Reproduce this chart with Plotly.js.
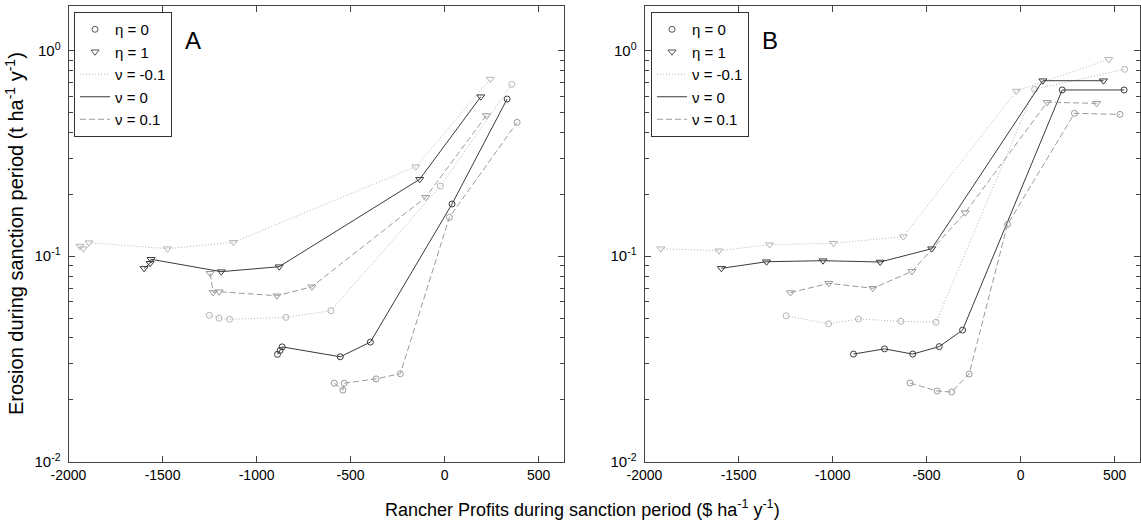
<!DOCTYPE html>
<html>
<head>
<meta charset="utf-8">
<script src="https://cdn.plot.ly/plotly-3.0.1.min.js"></script>
<style>html,body{margin:0;padding:0;background:#fff;}#chart{width:1141px;height:527px;}</style>
</head>
<body>
<div id="chart"></div>
<script>
// ---------- Data: Panel A ----------
const A_eta0_nuM01_x = [-1251, -1199, -1144, -844, -605, -23, 357];
const A_eta0_nuM01_y = [0.0516, 0.0499, 0.0493, 0.0504, 0.0543, 0.2195, 0.686];
const A_eta0_nu0_x   = [-889, -875, -864, -555, -395, 39, 332];
const A_eta0_nu0_y   = [0.0333, 0.0348, 0.0362, 0.0324, 0.0382, 0.1795, 0.582];
const A_eta0_nuP01_x = [-587, -541, -534, -365, -236, 25, 385];
const A_eta0_nuP01_y = [0.0241, 0.0223, 0.0241, 0.0253, 0.0268, 0.1546, 0.448];
const A_eta1_nuM01_x = [-1939, -1921, -1891, -1474, -1123, -154, 243];
const A_eta1_nuM01_y = [0.112, 0.1088, 0.1164, 0.1088, 0.1168, 0.2726, 0.728];
const A_eta1_nu0_x   = [-1598, -1566, -1561, -1188, -880, -133, 192];
const A_eta1_nu0_y   = [0.0873, 0.0924, 0.0966, 0.0841, 0.0889, 0.2367, 0.5973];
const A_eta1_nuP01_x = [-1247, -1231, -1199, -892, -706, -101, 222];
const A_eta1_nuP01_y = [0.0826, 0.0667, 0.0672, 0.0642, 0.0710, 0.1935, 0.484];

// ---------- Data: Panel B ----------
const B_eta0_nuM01_x = [-1247, -1021, -862, -637, -450, 74, 553];
const B_eta0_nuM01_y = [0.0513, 0.0469, 0.0495, 0.0482, 0.0477, 0.649, 0.812];
const B_eta0_nu0_x   = [-889, -724, -574, -433, -309, 221, 550];
const B_eta0_nu0_y   = [0.0334, 0.0354, 0.0334, 0.0363, 0.0437, 0.644, 0.644];
const B_eta0_nuP01_x = [-588, -444, -367, -274, -70, 286, 528];
const B_eta0_nuP01_y = [0.02415, 0.02208, 0.02184, 0.02672, 0.1429, 0.4958, 0.490];
const B_eta1_nuM01_x = [-1913, -1604, -1335, -995, -624, -23, 468];
const B_eta1_nuM01_y = [0.1088, 0.1063, 0.1138, 0.1156, 0.1245, 0.6367, 0.908];
const B_eta1_nu0_x   = [-1591, -1351, -1051, -747, -473, 118, 440];
const B_eta1_nu0_y   = [0.0873, 0.0940, 0.0951, 0.0937, 0.1088, 0.7145, 0.7145];
const B_eta1_nuP01_x = [-1224, -1020, -786, -578, -295, 141, 404];
const B_eta1_nuP01_y = [0.0665, 0.0738, 0.0698, 0.0844, 0.1628, 0.561, 0.5546];

// ---------- Labels ----------
const legendLabels = ['\u03B7 = 0', '\u03B7 = 1', '\u03BD = -0.1', '\u03BD = 0', '\u03BD = 0.1'];
const panelLabels = ['A', 'B'];
const xTickVals = [-2000, -1500, -1000, -500, 0, 500];
const yTickVals = [0.01, 0.1, 1];
const yTickText = ['10<sup>-2</sup>', '10<sup>-1</sup>', '10<sup>0</sup>'];
const yMinorVals = [0.02,0.03,0.04,0.05,0.06,0.07,0.08,0.09,0.2,0.3,0.4,0.5,0.6,0.7,0.8,0.9];

// ---------- Styles ----------
const FONT = 'Liberation Sans, Arial, sans-serif';
const styleNu = {
  m01: {color: '#b4b4b4', dash: '1px,2px'},
  z:   {color: '#3a3a3a', dash: 'solid'},
  p01: {color: '#9a9a9a', dash: '6px,3px'}
};
const symEta = {e0: 'circle-open', e1: 'triangle-down-open'};

function series(x, y, nu, eta, xa, ya) {
  const s = styleNu[nu];
  return {
    x: x, y: y, xaxis: xa, yaxis: ya, type: 'scatter', mode: 'lines+markers',
    showlegend: false, hoverinfo: 'x+y',
    line: {color: s.color, width: 1, dash: s.dash},
    marker: {symbol: symEta[eta], size: eta === 'e0' ? 6 : 7, color: s.color, line: {color: s.color, width: 1}}
  };
}

const traces = [
  series(A_eta0_nuM01_x, A_eta0_nuM01_y, 'm01', 'e0', 'x', 'y'),
  series(A_eta0_nu0_x,   A_eta0_nu0_y,   'z',   'e0', 'x', 'y'),
  series(A_eta0_nuP01_x, A_eta0_nuP01_y, 'p01', 'e0', 'x', 'y'),
  series(A_eta1_nuM01_x, A_eta1_nuM01_y, 'm01', 'e1', 'x', 'y'),
  series(A_eta1_nu0_x,   A_eta1_nu0_y,   'z',   'e1', 'x', 'y'),
  series(A_eta1_nuP01_x, A_eta1_nuP01_y, 'p01', 'e1', 'x', 'y'),
  series(B_eta0_nuM01_x, B_eta0_nuM01_y, 'm01', 'e0', 'x2', 'y2'),
  series(B_eta0_nu0_x,   B_eta0_nu0_y,   'z',   'e0', 'x2', 'y2'),
  series(B_eta0_nuP01_x, B_eta0_nuP01_y, 'p01', 'e0', 'x2', 'y2'),
  series(B_eta1_nuM01_x, B_eta1_nuM01_y, 'm01', 'e1', 'x2', 'y2'),
  series(B_eta1_nu0_x,   B_eta1_nu0_y,   'z',   'e1', 'x2', 'y2'),
  series(B_eta1_nuP01_x, B_eta1_nuP01_y, 'p01', 'e1', 'x2', 'y2')
];

// legend-only entries (one set per panel legend)
function legendEntries(legendId, xa, ya) {
  const out = [];
  const mk = (name, mode, extra) => Object.assign({
    x: [null], y: [null], xaxis: xa, yaxis: ya, type: 'scatter', mode: mode,
    name: name, legend: legendId, showlegend: true, hoverinfo: 'skip'
  }, extra);
  out.push(mk(legendLabels[0], 'markers', {marker: {symbol: symEta.e0, size: 6, color: '#555', line: {color: '#555', width: 1}}}));
  out.push(mk(legendLabels[1], 'markers', {marker: {symbol: symEta.e1, size: 7, color: '#555', line: {color: '#555', width: 1}}}));
  out.push(mk(legendLabels[2], 'lines', {line: {color: styleNu.m01.color, width: 1, dash: styleNu.m01.dash}}));
  out.push(mk(legendLabels[3], 'lines', {line: {color: styleNu.z.color, width: 1, dash: styleNu.z.dash}}));
  out.push(mk(legendLabels[4], 'lines', {line: {color: styleNu.p01.color, width: 1, dash: styleNu.p01.dash}}));
  return out;
}
traces.push(...legendEntries('legend', 'x', 'y'));
traces.push(...legendEntries('legend2', 'x2', 'y2'));

const W = 1141, H = 527;
const yDom = [(H - 461.7) / H, (H - 5.5) / H];
const xDomA = [68.5 / W, 564.3 / W];
const xDomB = [644.5 / W, 1140.3 / W];

function xAxis(dom, anchor) {
  return {
    domain: dom, anchor: anchor, range: [-2000, 636], type: 'linear',
    tickmode: 'array', tickvals: xTickVals, ticktext: xTickVals.map(String),
    ticks: 'inside', ticklen: 6, tickwidth: 1, tickcolor: '#444',
    showline: true, linecolor: '#444', linewidth: 1, mirror: 'ticks',
    showgrid: false, zeroline: false,
    tickfont: {family: FONT, size: 14, color: '#000'}
  };
}
function yAxis(anchor, title) {
  const ax = {
    domain: yDom, anchor: anchor, type: 'log', range: [-2, 0.22],
    tickmode: 'array', tickvals: yTickVals, ticktext: yTickText,
    ticks: 'inside', ticklen: 6, tickwidth: 1, tickcolor: '#444',
    minor: {tickmode: 'array', tickvals: yMinorVals, ticks: 'inside', ticklen: 4, tickcolor: '#444', tickwidth: 1, showgrid: false},
    showline: true, linecolor: '#444', linewidth: 1, mirror: 'ticks',
    showgrid: false, zeroline: false, ticklabelstandoff: 4,
    tickfont: {family: FONT, size: 15, color: '#000'}
  };
  if (title) {
    ax.title = {text: title, font: {family: FONT, size: 20, color: '#000'}, standoff: 5};
  }
  return ax;
}

function legendCfg(xpx) {
  return {
    x: xpx / W, y: (H - 12) / H, xanchor: 'left', yanchor: 'top',
    bgcolor: '#fff', bordercolor: '#333', borderwidth: 1,
    font: {family: FONT, size: 15, color: '#000'},
    itemwidth: 30, tracegroupgap: 0, itemclick: false
  };
}

const layout = {
  width: W, height: H,
  margin: {l: 0, r: 0, t: 0, b: 0, autoexpand: false},
  paper_bgcolor: '#fff', plot_bgcolor: '#fff',
  font: {family: FONT, color: '#000'},
  xaxis: xAxis(xDomA, 'y'),
  yaxis: yAxis('x', 'Erosion during sanction period (t ha<sup>-1</sup> y<sup>-1</sup>)'),
  xaxis2: xAxis(xDomB, 'y2'),
  yaxis2: yAxis('x2', null),
  legend: legendCfg(74),
  legend2: legendCfg(651),
  annotations: [
    {text: panelLabels[0], xref: 'paper', yref: 'paper', x: 183 / W, y: (H - 40) / H, xanchor: 'left', yanchor: 'middle', showarrow: false, font: {family: FONT, size: 24, color: '#000'}},
    {text: panelLabels[1], xref: 'paper', yref: 'paper', x: 760 / W, y: (H - 40) / H, xanchor: 'left', yanchor: 'middle', showarrow: false, font: {family: FONT, size: 24, color: '#000'}},
    {text: 'Rancher Profits during sanction period ($ ha<sup>-1</sup> y<sup>-1</sup>)', xref: 'paper', yref: 'paper', x: 582 / W, y: (H - 508) / H, xanchor: 'center', yanchor: 'middle', showarrow: false, font: {family: FONT, size: 18, color: '#000'}}
  ],
  showlegend: true
};

Plotly.newPlot('chart', traces, layout, {displayModeBar: false, staticPlot: true});
</script>
</body>
</html>
